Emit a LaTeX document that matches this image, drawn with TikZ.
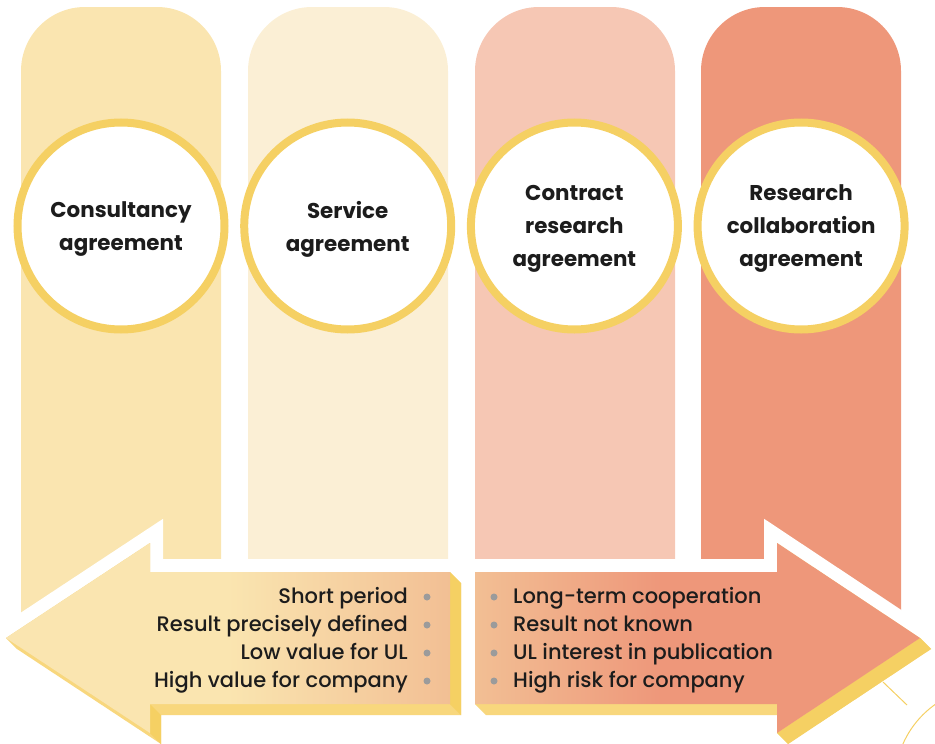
\documentclass[tikz,border=0pt]{standalone}
\usepackage{fontspec}
\setmainfont{Poppins}
\newfontfamily\medfont{Poppins Medium}
\usetikzlibrary{positioning}

\definecolor{paleyellow}{HTML}{FAE5B0}
\definecolor{cream}{HTML}{FBEFD5}
\definecolor{palepink}{HTML}{F6C7B4}
\definecolor{salmon}{HTML}{EE977A}
\definecolor{ringyellow}{HTML}{F5D063}
\definecolor{sideyellow}{HTML}{F8D77D}
\definecolor{peach}{HTML}{F2BF94}
\definecolor{dotgray}{HTML}{9B9B9B}
\definecolor{inkblack}{HTML}{1C1C1C}

\pgfdeclarehorizontalshading{leftshade}{100bp}{color(0bp)=(paleyellow); color(50bp)=(paleyellow); color(75bp)=(peach); color(100bp)=(peach)}
\pgfdeclarehorizontalshading{rightshade}{100bp}{color(0bp)=(peach); color(25bp)=(peach); color(46bp)=(salmon); color(100bp)=(salmon)}

\tikzset{
  ring/.style={circle, draw=ringyellow, line width=8pt, fill=white, minimum size=207pt,
    inner sep=0pt, align=center, text=inkblack, text depth=-5pt, font=\bfseries\fontsize{21.4}{33}\selectfont},
  lefttext/.style={anchor=base east, inner sep=0pt, text=inkblack, font=\medfont\fontsize{21}{28}\selectfont},
  righttext/.style={anchor=base west, inner sep=0pt, text=inkblack, font=\medfont\fontsize{21}{28}\selectfont},
  dot/.style={circle, fill=dotgray, minimum size=7pt, inner sep=0pt},
  gap/.style={draw=white, line width=26pt}
}

\begin{document}
\begin{tikzpicture}[x=1pt, y=-1pt]
    \useasboundingbox (0,0) rectangle (935,744);

    % columns
    \fill[paleyellow] (21,615) [rounded corners=64pt] -- (21,7) -- (221,7) [sharp corners] -- (221,615) -- cycle;
    \fill[cream] (248,615) [rounded corners=64pt] -- (248,7) -- (448,7) [sharp corners] -- (448,615) -- cycle;
    \fill[palepink] (475,615) [rounded corners=64pt] -- (475,7) -- (675,7) [sharp corners] -- (675,615) -- cycle;
    \fill[salmon] (701,615) [rounded corners=64pt] -- (701,7) -- (901,7) [sharp corners] -- (901,615) -- cycle;

    \node[ring] (consult) at (121,226) {Consultancy\\agreement};
    \node[ring, right=11.7pt of consult] (service) {Service\\agreement};
    \node[ring, right=11.7pt of service] (contract) {Contract\\research\\agreement};
    \node[ring, right=11.7pt of contract] (collab) {Research\\collaboration\\agreement};

    % left arrow
    \coordinate (ltip) at (6,638);
    \coordinate (lup) at (150,543);
    \coordinate (lupin) at (150,572);
    \coordinate (ltr) at (450,572);
    \coordinate (lbr) at (450,704);
    \coordinate (llowin) at (150,704);
    \coordinate (llow) at (150,733);
    \draw[gap] (ltip) -- (lup) -- (lupin) -- (ltr) -- ++(11,11) -- ([shift={(11,11)}]lbr)
        -- ([shift={(11,11)}]llowin) -- ([shift={(11,11)}]llow) -- ([shift={(11,11)}]ltip) -- cycle;
    \fill[sideyellow] (ltip) -- (lup) -- (lupin) -- (ltr) -- ++(11,11) -- ([shift={(11,11)}]lbr)
        -- ([shift={(11,11)}]llowin) -- ([shift={(11,11)}]llow) -- ([shift={(11,11)}]ltip) -- cycle;
    \fill[ringyellow] (ltr) -- ++(11,11) -- ([shift={(11,11)}]lbr) -- (lbr) -- cycle;
    \fill[ringyellow] (llowin) -- ++(11,11) -- ([shift={(11,11)}]llow) -- (llow) -- cycle;
    \shade[shading=leftshade] (ltip) -- (lup) -- (lupin) -- (ltr) -- (lbr) -- (llowin) -- (llow) -- cycle;

    % right arrow
    \coordinate (rtl) at (475,572);
    \coordinate (rupin) at (777,572);
    \coordinate (rup) at (777,543);
    \coordinate (rtip) at (920,638);
    \coordinate (rlow) at (777,733);
    \coordinate (rlowin) at (777,704);
    \coordinate (rbl) at (475,704);
    \draw[gap] (rtl) -- (rupin) -- (rup) -- (rtip) -- ++(11,11) -- ([shift={(11,11)}]rlow) -- (rlow)
        -- (777,715) -- ([shift={(11,11)}]rbl) -- (rbl) -- cycle;
    \fill[sideyellow] (rtl) -- (rupin) -- (rup) -- (rtip) -- ++(11,11) -- ([shift={(11,11)}]rlow) -- (rlow)
        -- (777,715) -- ([shift={(11,11)}]rbl) -- (rbl) -- cycle;
    \fill[ringyellow] (rtip) -- ++(11,11) -- ([shift={(11,11)}]rlow) -- (rlow) -- cycle;
    \shade[shading=rightshade] (rtl) -- (rupin) -- (rup) -- (rtip) -- (rlow) -- (rlowin) -- (rbl) -- cycle;

    % left list
    \node[lefttext] (shortp) at (408,603) {Short period};
    \node[lefttext] (precise) at (408,631) {Result precisely defined};
    \node[lefttext] (lowul) at (408,659) {Low value for UL};
    \node[lefttext] (highco) at (408,687) {High value for company};
    \node[dot] (ldot1) at (427,597) {};
    \node[dot] (ldot2) at (427,625) {};
    \node[dot] (ldot3) at (427,653) {};
    \node[dot] (ldot4) at (427,681) {};

    % right list
    \node[righttext] (longterm) at (513,603) {Long-term cooperation};
    \node[righttext] (unknown) at (513,631) {Result not known};
    \node[righttext] (publ) at (513,659) {UL interest in publication};
    \node[righttext] (risk) at (513,687) {High risk for company};
    \node[dot] (rdot1) at (494,597) {};
    \node[dot] (rdot2) at (494,625) {};
    \node[dot] (rdot3) at (494,653) {};
    \node[dot] (rdot4) at (494,681) {};

    % corner ornament
    \begin{scope}
        \clip (0,0) rectangle (935,744);
        \draw[ringyellow, line width=1pt] (883,682) -- (907,705);
        \draw[ringyellow, line width=1pt] (990,782) circle (95);
    \end{scope}
\end{tikzpicture}
\end{document}
